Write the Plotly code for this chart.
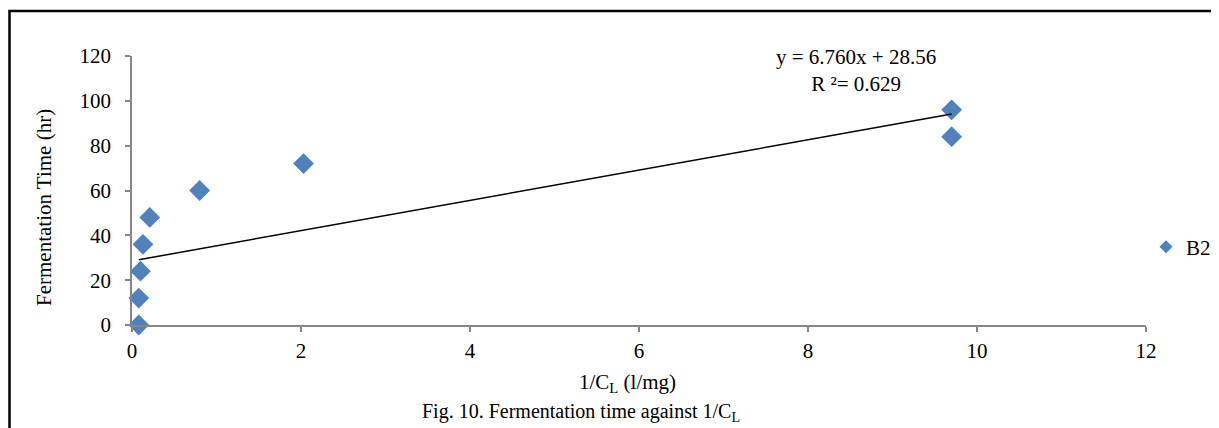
import plotly.graph_objects as go
import numpy as np

# Data
inv_cl = [0.08, 0.08, 0.10, 0.13, 0.21, 0.80, 2.03, 9.70, 9.70]
ferm_time = [0, 12, 24, 36, 48, 60, 72, 96, 84]
series_name = "B2"
slope = 6.760
intercept = 28.56
r2 = 0.629
x_ticks = [0, 2, 4, 6, 8, 10, 12]
y_ticks = [0, 20, 40, 60, 80, 100, 120]

FONT = "Liberation Serif, Times New Roman, serif"
BLUE = "#4F81BD"
AXIS = "#868686"
FS = 21

# page body has an 8px default margin; plot area in window px: x 132..1146, y 56..325
W, H = 1211, 420
L, T = 124, 48
PW, PH = 1014, 269


def px(xw):
    return (xw - 132) / PW


def py(yw):
    return (325 - yw) / PH


fig = go.Figure()

fig.add_trace(go.Scatter(
    x=inv_cl, y=ferm_time, mode="markers", showlegend=False, cliponaxis=False,
    marker=dict(symbol="diamond", size=16, color=BLUE, line=dict(width=0)),
))

xt = np.array([min(inv_cl), max(inv_cl)])
fig.add_trace(go.Scatter(
    x=xt, y=slope * xt + intercept, mode="lines", showlegend=False,
    line=dict(color="black", width=1.5),
))

# legend-only entry
fig.add_trace(go.Scatter(
    x=[None], y=[None], mode="markers", name=series_name,
    marker=dict(symbol="diamond", size=10, color=BLUE),
))

fig.update_layout(
    width=W, height=H,
    margin=dict(l=L, r=W - L - PW, t=T, b=H - T - PH, autoexpand=False),
    paper_bgcolor="white", plot_bgcolor="white",
    font=dict(family=FONT, size=FS, color="black"),
    showlegend=True,
    legend=dict(xref="container", yref="container",
                x=(1146 - 8) / W, y=1 - (247 - 8) / H, xanchor="left", yanchor="middle",
                bgcolor="rgba(0,0,0,0)", font=dict(size=FS),
                itemwidth=30, tracegroupgap=0),
    xaxis=dict(
        range=[0, 12], tickvals=x_ticks, showgrid=False, zeroline=False,
        showline=True, linecolor=AXIS, linewidth=1.5,
        ticks="outside", ticklen=5, tickcolor=AXIS, tickwidth=1.5,
        tickfont=dict(size=FS), ticklabelstandoff=1,
    ),
    yaxis=dict(
        range=[0, 120], tickvals=y_ticks, showgrid=False, zeroline=False,
        showline=True, linecolor=AXIS, linewidth=1.5,
        ticks="outside", ticklen=5, tickcolor=AXIS, tickwidth=1.5,
        tickfont=dict(size=FS), ticklabelstandoff=10,
    ),
    annotations=[
        dict(xref="paper", yref="paper", x=px(856), y=py(71), xanchor="center", yanchor="middle",
             showarrow=False, align="center",
             text=f"y = {slope:.3f}x + {intercept:.2f}<br>R ²= {r2:.3f}",
             font=dict(size=FS)),
        dict(xref="paper", yref="paper", x=px(44), y=py(208), xanchor="center", yanchor="middle",
             showarrow=False, textangle=-90, text="Fermentation Time (hr)", font=dict(size=FS)),
        dict(xref="paper", yref="paper", x=px(627), y=py(383), xanchor="center", yanchor="middle",
             showarrow=False, text="1/C<sub>L</sub> (l/mg)", font=dict(size=FS)),
        dict(xref="paper", yref="paper", x=px(581), y=py(412), xanchor="center", yanchor="middle",
             showarrow=False, text="Fig. 10. Fermentation time against 1/C<sub>L</sub>",
             font=dict(size=20)),
    ],
    shapes=[
        dict(type="rect", xref="paper", yref="paper",
             x0=px(9.5), x1=1.3, y0=-0.6, y1=py(11),
             line=dict(color="black", width=2.5), fillcolor="rgba(0,0,0,0)", layer="below"),
    ],
)

fig.write_html("out.html")
